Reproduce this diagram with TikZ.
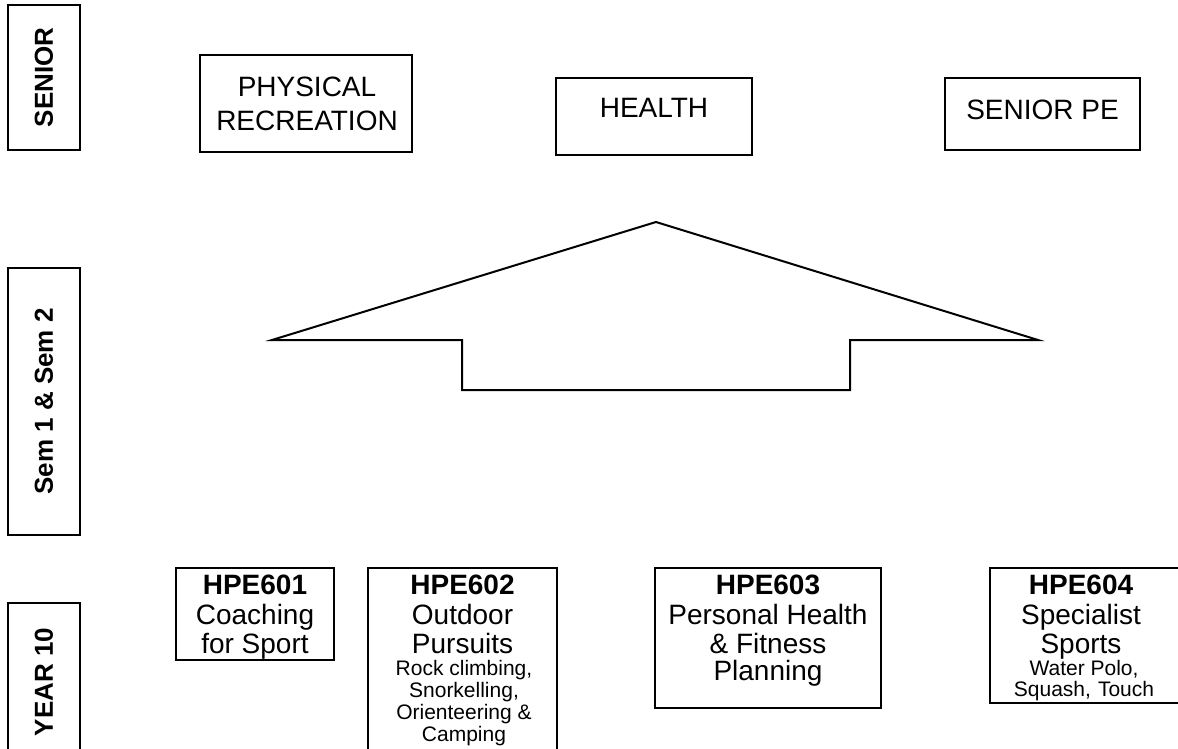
\documentclass[tikz,border=0pt]{standalone}
\usepackage{fontspec}
\setmainfont{Liberation Sans}
\begin{document}
\begin{tikzpicture}[x=1pt,y=-1pt,
  frame/.style={draw=black, line width=2pt, inner sep=0pt, fill=none},
  big/.style={font=\fontsize{28}{29.5}\selectfont, align=center, inner sep=0pt},
  small/.style={font=\fontsize{21}{22}\selectfont, align=center, inner sep=0pt},
  vlab/.style={font=\fontsize{26}{30}\selectfont\bfseries, rotate=90, inner sep=0pt},
  arrowshape/.style={draw=black, line width=2pt, line join=miter}
]
\useasboundingbox (0,0) rectangle (1178,749);
\clip (0,0) rectangle (1178,749);
\fill[white] (0,0) rectangle (1178,749);

% left vertical labels
\node[frame, minimum width=72pt, minimum height=145pt] (senbox) at (44,77.5) {};
\node[vlab] (sent) at (senbox.center) {SENIOR};
\node[frame, minimum width=72pt, minimum height=267pt] (sembox) at (44,401.5) {};
\node[vlab] (semt) at (sembox.center) {Sem 1 \& Sem 2};
\node[frame, minimum width=72pt, minimum height=180pt] (yrbox) at (44,693) {};
\node[vlab] (yrt) at (44,682) {YEAR 10};

% senior boxes
\node[frame, minimum width=212pt, minimum height=97pt] (prbox) at (306,103.5) {};
\node[big, font=\fontsize{28}{34}\selectfont] (prt) at (307,104) {PHYSICAL\\RECREATION};
\node[frame, minimum width=196pt, minimum height=77pt] (hbox) at (654,116.5) {};
\node[big] (ht) at (654,108) {HEALTH};
\node[frame, minimum width=195pt, minimum height=72pt] (spbox) at (1042.5,114) {};
\node[big] (spt) at (1042.5,110) {SENIOR PE};

% up arrow
\draw[arrowshape] (656,222) -- (1038,340) -- (850,340) -- (850,390)
  -- (462,390) -- (462,340) -- (272,340) -- cycle;

% year 10 boxes
\node[frame, minimum width=158pt, minimum height=92pt] (b1) at (255,614) {};
\node[big, anchor=north] (t1) at (255,575) {\textbf{HPE601}\\Coaching\\for Sport};

\node[frame, minimum width=189pt, minimum height=200pt] (b2) at (462.5,668) {};
\node[big, anchor=north] (t2) at (462.5,575) {\textbf{HPE602}\\Outdoor\\Pursuits};
\node[small, anchor=north] (s2) at (464,660) {Rock climbing,\\Snorkelling,\\Orienteering \&\\Camping};

\node[frame, minimum width=226pt, minimum height=140pt] (b3) at (768,638) {};
\node[big, anchor=north] (t3) at (768,575) {\textbf{HPE603}\\Personal Health\\\& Fitness};
\node[big, anchor=north] (p3) at (768,660) {Planning};

\node[frame, minimum width=210pt, minimum height=135pt] (b4) at (1095,635.5) {};
\node[big, anchor=north] (t4) at (1081,575) {\textbf{HPE604}\\Specialist\\Sports};
\node[small, anchor=north, font=\fontsize{21}{21}\selectfont] (s4) at (1084,660) {Water Polo,\\Squash,\hspace{7pt}Touch};
\end{tikzpicture}
\end{document}
